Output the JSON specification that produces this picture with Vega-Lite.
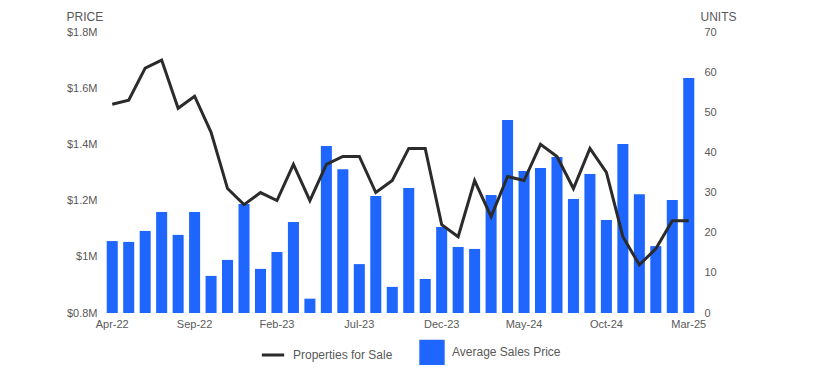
{
  "$schema": "https://vega.github.io/schema/vega-lite/v6.json",
  "autosize": {"type": "none"},
  "width": 593,
  "height": 281,
  "padding": {"left": 104, "top": 32, "right": 118, "bottom": 65},
  "background": "white",
  "config": {
    "view": {"stroke": null},
    "font": "Liberation Sans",
    "axis": {"grid": false, "domain": false, "ticks": false, "labelColor": "#595959", "labelFontSize": 11, "titleColor": "#595959", "titleFontSize": 12, "titleFontWeight": "normal", "labelFont": "Liberation Sans", "titleFont": "Liberation Sans"},
    "legend": {"labelColor": "#595959", "labelFontSize": 12, "labelFont": "Liberation Sans"}
  },
  "data": {
    "values": [
      {"month": "Apr-22", "price": 1056000, "units": 52},
      {"month": "May-22", "price": 1053000, "units": 53},
      {"month": "Jun-22", "price": 1092000, "units": 61},
      {"month": "Jul-22", "price": 1159000, "units": 63},
      {"month": "Aug-22", "price": 1078000, "units": 51},
      {"month": "Sep-22", "price": 1159000, "units": 54},
      {"month": "Oct-22", "price": 932000, "units": 45},
      {"month": "Nov-22", "price": 989000, "units": 31},
      {"month": "Dec-22", "price": 1188000, "units": 27},
      {"month": "Jan-23", "price": 957000, "units": 30},
      {"month": "Feb-23", "price": 1017000, "units": 28},
      {"month": "Mar-23", "price": 1124000, "units": 37},
      {"month": "Apr-23", "price": 851000, "units": 28},
      {"month": "May-23", "price": 1394000, "units": 37},
      {"month": "Jun-23", "price": 1312000, "units": 39},
      {"month": "Jul-23", "price": 974000, "units": 39},
      {"month": "Aug-23", "price": 1216000, "units": 30},
      {"month": "Sep-23", "price": 893000, "units": 33},
      {"month": "Oct-23", "price": 1245000, "units": 41},
      {"month": "Nov-23", "price": 921000, "units": 41},
      {"month": "Dec-23", "price": 1106000, "units": 22},
      {"month": "Jan-24", "price": 1035000, "units": 19},
      {"month": "Feb-24", "price": 1028000, "units": 33},
      {"month": "Mar-24", "price": 1220000, "units": 24},
      {"month": "Apr-24", "price": 1487000, "units": 34},
      {"month": "May-24", "price": 1305000, "units": 33},
      {"month": "Jun-24", "price": 1316000, "units": 42},
      {"month": "Jul-24", "price": 1355000, "units": 39},
      {"month": "Aug-24", "price": 1206000, "units": 31},
      {"month": "Sep-24", "price": 1295000, "units": 41},
      {"month": "Oct-24", "price": 1131000, "units": 35},
      {"month": "Nov-24", "price": 1401000, "units": 19},
      {"month": "Dec-24", "price": 1223000, "units": 12},
      {"month": "Jan-25", "price": 1038000, "units": 16},
      {"month": "Feb-25", "price": 1202000, "units": 23},
      {"month": "Mar-25", "price": 1636000, "units": 23}
    ]
  },
  "encoding": {
    "x": {
      "field": "month", "type": "ordinal", "sort": null,
      "scale": {"paddingInner": 0.33, "paddingOuter": 0.165},
      "axis": {"title": null, "labelAngle": 0, "labelPadding": 5, "values": ["Apr-22", "Sep-22", "Feb-23", "Jul-23", "Dec-23", "May-24", "Oct-24", "Mar-25"]}
    }
  },
  "layer": [
    {
      "mark": {"type": "bar", "color": "#1f66ff"},
      "encoding": {
        "y": {
          "field": "price", "type": "quantitative",
          "scale": {"domain": [800000, 1800000], "zero": false, "nice": false},
          "axis": {
            "title": "PRICE", "titleAngle": 0, "titleAlign": "left", "titleBaseline": "middle", "titleX": -38, "titleY": -16,
            "values": [800000, 1000000, 1200000, 1400000, 1600000, 1800000], "labelPadding": 7,
            "labelExpr": "datum.value == 1000000 ? '$1M' : '$' + format(datum.value / 1000000, '.1f') + 'M'"
          }
        },
        "y2": {"datum": 800000},
        "color": {"datum": "Average Sales Price", "type": "nominal",
          "scale": {"domain": ["Properties for Sale", "Average Sales Price"], "range": ["#2b2b2b", "#1f66ff"]},
          "legend": {
            "title": null, "orient": "none", "legendX": 156, "legendY": 309, "direction": "horizontal",
            "symbolSize": 500, "labelOffset": 7, "columnPadding": 21, "symbolType": "square",
            "symbolStrokeWidth": 3,
            "encode": {
              "symbols": {"update": {
                "shape": {"signal": "datum.label == 'Properties for Sale' ? 'stroke' : 'square'"},
                "fill": {"signal": "datum.label == 'Properties for Sale' ? 'transparent' : '#1f66ff'"},
                "stroke": {"signal": "datum.label == 'Properties for Sale' ? '#2b2b2b' : 'transparent'"},
                "strokeWidth": {"value": 3},
                "opacity": {"value": 1},
                "y": {"signal": "datum.label == 'Properties for Sale' ? 5 : 11"}
              }},
              "labels": {"update": {"y": {"signal": "datum.label == 'Properties for Sale' ? 5 : 11"}, "baseline": {"value": "middle"}}}
            }
          }
        }
      }
    },
    {
      "mark": {"type": "line", "strokeWidth": 3, "color": "#2b2b2b"},
      "encoding": {
        "x": {"field": "month", "type": "ordinal", "sort": null, "bandPosition": 0.5},
        "y": {
          "field": "units", "type": "quantitative",
          "scale": {"domain": [0, 70], "nice": false},
          "axis": {
            "orient": "right", "title": "UNITS", "titleAngle": 0, "titleAlign": "left", "titleBaseline": "middle", "titleX": 3, "titleY": -16,
            "values": [0, 10, 20, 30, 40, 50, 60, 70], "labelPadding": 7
          }
        },
        "color": {"datum": "Properties for Sale", "type": "nominal"}
      }
    }
  ],
  "resolve": {"scale": {"y": "independent"}}
}
